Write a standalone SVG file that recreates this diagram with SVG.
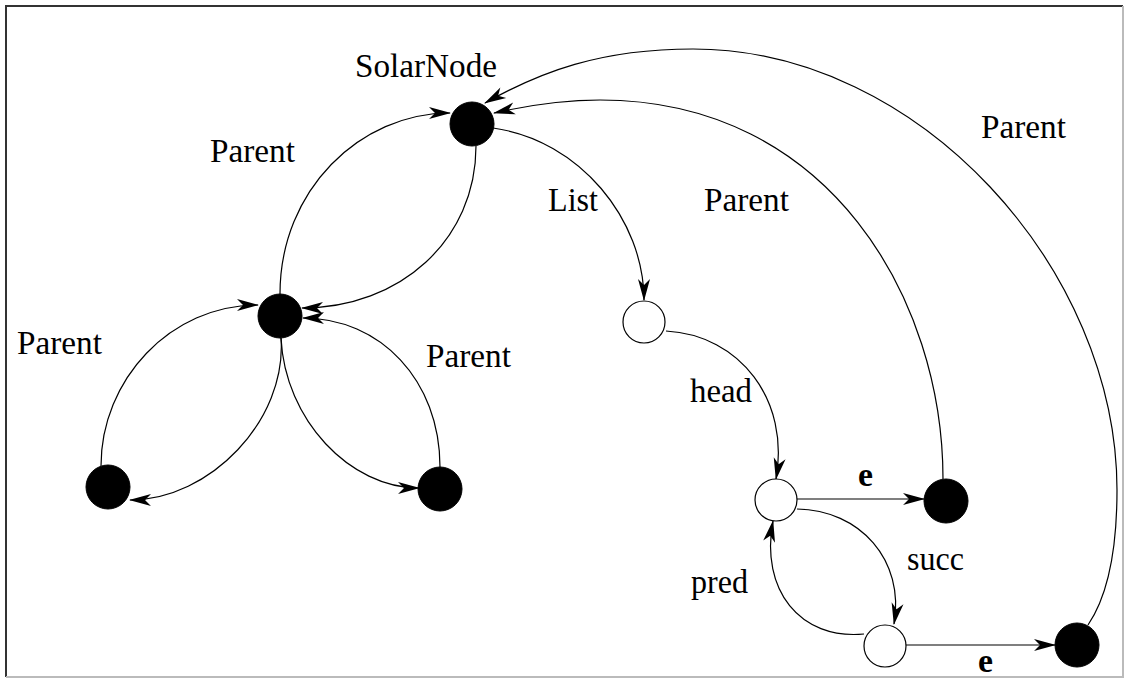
<svg xmlns="http://www.w3.org/2000/svg" width="1125" height="679" viewBox="0 0 1125 679">
  <style>
    .frame-dark { stroke: #333; stroke-width: 2; fill: none; }
    .frame-light { stroke: #bbb; stroke-width: 2; fill: none; }
    .full { fill: #000; stroke: #000; stroke-width: 1; }
    .hollow { fill: #fff; stroke: #000; stroke-width: 1.2; }
    .edge { fill: none; stroke: #000; stroke-width: 1.2; marker-end: url(#barb); }
    .lbl { font-family: "Liberation Serif", "Times New Roman", serif; font-size: 33px; fill: #000; }
    .bold { font-weight: bold; }
  </style>
  <defs>
    <marker id="barb" viewBox="0 0 22 12" refX="21" refY="6" markerWidth="22" markerHeight="12" markerUnits="userSpaceOnUse" orient="auto" overflow="visible">
      <path d="M0,0 L22,6 L0,12 L6,6 z" fill="#000"/>
    </marker>
  </defs>

  <rect width="1125" height="679" fill="#fff"/>
  <!-- page frame -->
  <path class="frame-dark" d="M6,677 L6,6 L1123,6"/>
  <path class="frame-light" d="M6,677 L1123,677 L1123,6"/>

  <g id="connectors">
    <!-- tree links -->
    <path class="edge" d="M280,294 C280,190 360,113 450,113"/>
    <path class="edge" d="M476,146 C476,240 400,308 302,308"/>
    <path class="edge" d="M281,338 C287,420 210,500 130,500"/>
    <path class="edge" d="M101,466 C101,380 170,305 258,305"/>
    <path class="edge" d="M281,338 C285,420 350,488 419,488"/>
    <path class="edge" d="M440,467 C440,380 380,318 303,318"/>
    <!-- list structure -->
    <path class="edge" d="M493,128 C580,140 644,220 644,300"/>
    <path class="edge" d="M666,331 C740,335 790,400 776,479"/>
    <path class="edge" d="M797,499 L924,499"/>
    <path class="edge" d="M797,509 C860,510 905,560 894,624"/>
    <path class="edge" d="M864,634 C800,640 760,590 773,521"/>
    <path class="edge" d="M906,645 L1055,645"/>
    <!-- long parent links back to the root -->
    <path class="edge" d="M943,479 C943,300 830,100 600,100 C560,100 525,106 494,113"/>
    <path class="edge" d="M1088,625 C1105,600 1117,560 1117,490 C1117,270 920,49 693,49 C600,49 540,72 485,103"/>
  </g>

  <g id="solar-node"><circle class="full" cx="472" cy="124" r="22"/></g>
  <g id="mid-node"><circle class="full" cx="280" cy="316" r="22"/></g>
  <g id="left-leaf"><circle class="full" cx="108" cy="487" r="22"/></g>
  <g id="right-leaf"><circle class="full" cx="440" cy="489" r="22"/></g>
  <g id="list-node"><circle class="hollow" cx="644" cy="322" r="21"/></g>
  <g id="cell-a"><circle class="hollow" cx="776" cy="500" r="21"/></g>
  <g id="elem-a"><circle class="full" cx="946" cy="501" r="22"/></g>
  <g id="cell-b"><circle class="hollow" cx="885" cy="646" r="21"/></g>
  <g id="elem-b"><circle class="full" cx="1077" cy="645" r="22"/></g>

  <g id="labels">
    <text class="lbl" x="355" y="77" textLength="142" lengthAdjust="spacingAndGlyphs">SolarNode</text>
    <text class="lbl" x="210" y="162" textLength="85" lengthAdjust="spacingAndGlyphs">Parent</text>
    <text class="lbl" x="17" y="354" textLength="85" lengthAdjust="spacingAndGlyphs">Parent</text>
    <text class="lbl" x="426" y="367" textLength="85" lengthAdjust="spacingAndGlyphs">Parent</text>
    <text class="lbl" x="548" y="211" textLength="50" lengthAdjust="spacingAndGlyphs">List</text>
    <text class="lbl" x="704" y="211" textLength="85" lengthAdjust="spacingAndGlyphs">Parent</text>
    <text class="lbl" x="981" y="138" textLength="85" lengthAdjust="spacingAndGlyphs">Parent</text>
    <text class="lbl" x="690" y="402" textLength="62" lengthAdjust="spacingAndGlyphs">head</text>
    <text class="lbl bold" x="858" y="486" textLength="15" lengthAdjust="spacingAndGlyphs">e</text>
    <text class="lbl" x="907" y="570" textLength="57" lengthAdjust="spacingAndGlyphs">succ</text>
    <text class="lbl" x="691" y="593" textLength="57" lengthAdjust="spacingAndGlyphs">pred</text>
    <text class="lbl bold" x="978" y="672" textLength="15" lengthAdjust="spacingAndGlyphs">e</text>
  </g>
</svg>
